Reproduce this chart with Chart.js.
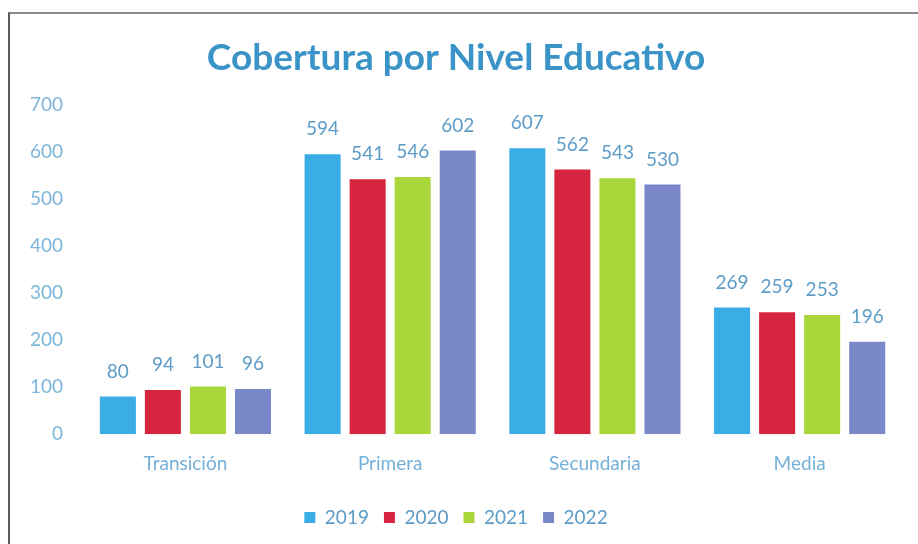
<!DOCTYPE html>
<html>
<head>
<meta charset="utf-8">
<script src="https://cdn.jsdelivr.net/npm/chart.js@4.4.1/dist/chart.umd.min.js"></script>
<style>
  html, body { margin: 0; padding: 0; background: #fff; }
  #frame {
    position: absolute; left: 8px; top: 12px; width: 910px; height: 532px;
    border-left: 2px solid #5a5a5a; border-top: 2px solid #8a8a8a;
  }
  #chart { display: block; }
</style>
</head>
<body>
<div id="frame"><canvas id="chart" width="908" height="530"></canvas></div>
<script>
const categories = ['Transición', 'Primera', 'Secundaria', 'Media'];
const years = ['2019', '2020', '2021', '2022'];
const values2019 = [80, 594, 607, 269];
const values2020 = [94, 541, 562, 259];
const values2021 = [101, 546, 543, 253];
const values2022 = [96, 602, 530, 196];
const yTicks = [0, 100, 200, 300, 400, 500, 600, 700];

const COLORS = ['#3aade6', '#d6263f', '#a9d63b', '#7a87c9'];

// labels above each bar, placed from the bar elements the library laid out
const barLabels = {
  id: 'barLabels',
  afterDatasetsDraw(chart) {
    const ctx = chart.ctx;
    ctx.save();
    ctx.font = '19px Lato';
    ctx.fillStyle = '#5c9cc7';
    ctx.textAlign = 'center';
    ctx.textBaseline = 'middle';
    chart.data.datasets.forEach((ds, i) => {
      chart.getDatasetMeta(i).data.forEach((bar, j) => {
        ctx.fillText(ds.data[j], bar.x, bar.y - 25);
      });
    });
    ctx.restore();
  }
};

new Chart(document.getElementById('chart'), {
  type: 'bar',
  data: {
    labels: categories,
    datasets: [values2019, values2020, values2021, values2022].map((vals, i) => ({
      label: years[i],
      data: vals,
      backgroundColor: COLORS[i],
      borderWidth: 0
    }))
  },
  options: {
    responsive: false,
    animation: false,
    layout: { padding: { left: 0, right: 16, top: 12, bottom: 7 } },
    datasets: { bar: { categoryPercentage: 0.88, barPercentage: 0.8 } },
    scales: {
      x: {
        grid: { display: false, drawTicks: false },
        border: { display: false },
        ticks: { color: '#74b0d8', font: { family: 'Lato', size: 19 }, padding: 18 }
      },
      y: {
        min: 0, max: 700,
        afterBuildTicks: (axis) => { axis.ticks = yTicks.map(v => ({ value: v })); },
        grid: { display: false, drawTicks: false },
        border: { display: false },
        ticks: { color: '#7db6da', font: { family: 'Lato', size: 19 }, padding: 20 }
      }
    },
    plugins: {
      title: {
        display: true,
        text: 'Cobertura por Nivel Educativo',
        color: '#3b94c8',
        font: { family: 'Lato', size: 37, weight: 'bold' },
        padding: { top: 10, bottom: 24 }
      },
      legend: {
        position: 'bottom',
        labels: {
          color: '#5c9cc7',
          font: { family: 'Lato', size: 19 },
          boxWidth: 11, boxHeight: 11, padding: 15
        }
      },
      tooltip: { enabled: false }
    }
  },
  plugins: [barLabels]
});
</script>
</body>
</html>
